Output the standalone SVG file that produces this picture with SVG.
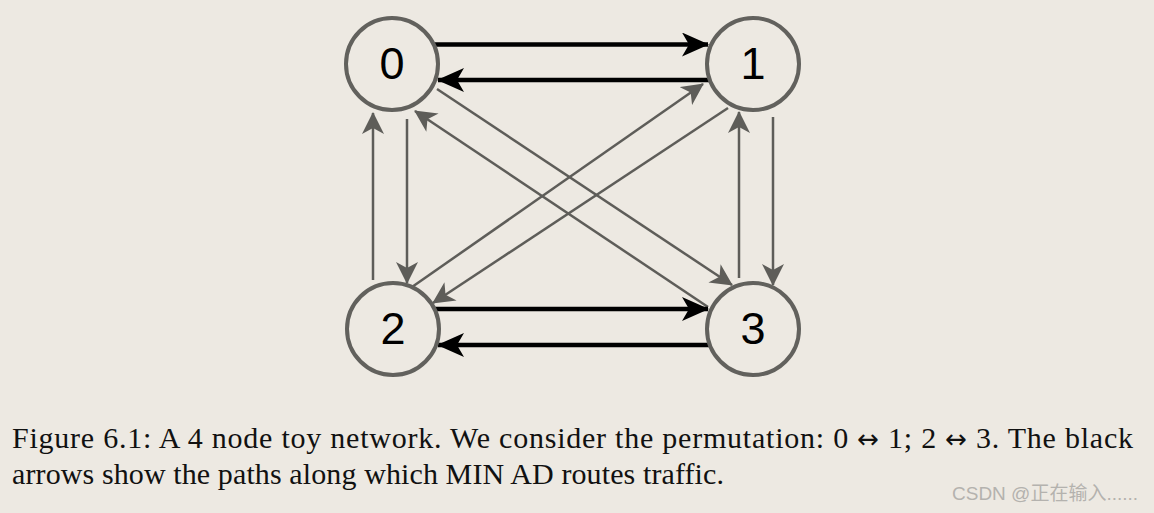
<svg xmlns="http://www.w3.org/2000/svg" width="1154" height="513" viewBox="0 0 1154 513">
<style>
.node circle{fill:#ede9e2;stroke:#62615d;stroke-width:4}
.node text{font-family:"Liberation Sans",Arial,sans-serif;font-size:45px;fill:#000;text-anchor:middle}
.blk{stroke:#000;stroke-width:4.5;fill:none;marker-end:url(#ab)}
.gry{stroke:#5e5d59;stroke-width:2.5;fill:none;marker-end:url(#ag)}
.cap{font-family:"Liberation Serif","Times New Roman",serif;font-size:30px;fill:#111}
.ar{font-family:"DejaVu Sans",sans-serif;font-size:26px}
.wm{font-family:"Liberation Sans","Noto Sans CJK SC",sans-serif;font-size:19px;fill:#b4b2ae}
</style>
<defs>
<marker id="ab" viewBox="0 0 27 24" refX="26" refY="12" markerWidth="27" markerHeight="24" markerUnits="userSpaceOnUse" orient="auto">
<path d="M0,0 L27,12 L0,24 L7,12 z" fill="#000"/>
</marker>
<marker id="ag" viewBox="0 0 22 22" refX="21" refY="11" markerWidth="22" markerHeight="22" markerUnits="userSpaceOnUse" orient="auto">
<path d="M0,0 L22,11 L0,22 L6,11 z" fill="#5e5d59"/>
</marker>
</defs>
<rect width="1154" height="513" fill="#ede9e2"/>
<g id="connectors">
<path class="gry" d="M373,280 L373,113"/>
<path class="gry" d="M407,119 L407,283"/>
<path class="gry" d="M739,278 L739,112"/>
<path class="gry" d="M773,117 L773,285"/>
<path class="gry" d="M437,89 L732,285"/>
<path class="gry" d="M708,307 L415,111"/>
<path class="gry" d="M412,287 L703,84"/>
<path class="gry" d="M728,108 L433,303"/>
<path class="blk" d="M433,44.5 L708,44.5"/>
<path class="blk" d="M712,80 L438,80"/>
<path class="blk" d="M433,309 L708,309"/>
<path class="blk" d="M712,345 L438,345"/>
</g>
<g id="node0" class="node"><circle cx="392" cy="64" r="46"/><text x="392" y="79">0</text></g>
<g id="node1" class="node"><circle cx="753" cy="64" r="46"/><text x="753" y="79">1</text></g>
<g id="node2" class="node"><circle cx="393" cy="329" r="46"/><text x="393" y="344">2</text></g>
<g id="node3" class="node"><circle cx="753" cy="329" r="46"/><text x="753" y="344">3</text></g>
<text class="cap" x="12" y="448" textLength="1121">Figure 6.1: A 4 node toy network. We consider the permutation: 0 <tspan class="ar">↔</tspan> 1; 2 <tspan class="ar">↔</tspan> 3. The black</text>
<text class="cap" x="12" y="484" textLength="712">arrows show the paths along which MIN AD routes traffic.</text>
<text class="wm" x="952" y="500">CSDN @正在输入......</text>
</svg>
